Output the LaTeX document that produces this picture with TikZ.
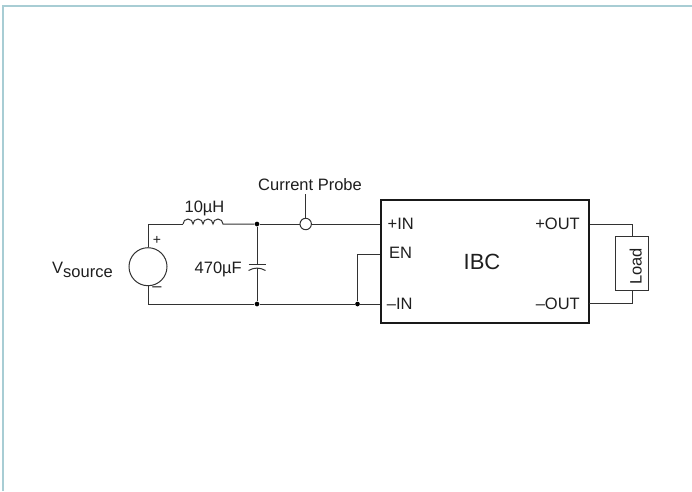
\documentclass[tikz,border=0pt]{standalone}
\usepackage{fontspec}
\setmainfont{Liberation Sans}
\definecolor{framec}{RGB}{168,205,212}
\definecolor{wirec}{RGB}{50,50,50}
\definecolor{textc}{RGB}{30,30,30}
\begin{document}
\begin{tikzpicture}[x=1pt,y=-1pt,
  wire/.style={draw=wirec,line width=1pt},
  lbl/.style={inner sep=0pt,font=\fontsize{16.5}{19}\selectfont,text=textc},
  dotj/.style={circle,fill=black,inner sep=0pt,minimum size=4.7pt}]
\useasboundingbox (0,0) rectangle (692,491);
\draw[draw=framec,line width=1.5pt] (3,491) -- (3,5.8) -- (692,5.8);
\node[draw=black!90,line width=1.5pt,minimum width=208pt,minimum height=123pt,inner sep=0pt,anchor=north west] (ibc) at (380,199) {};
\node[lbl,font=\fontsize{22}{24}\selectfont,anchor=base] (ibct) at (482,269) {IBC};
\node[draw=wirec,line width=1pt,circle,minimum size=38pt,inner sep=0pt] (src) at (148,266.7) {};
\node[draw=wirec,line width=1pt,minimum width=33pt,minimum height=54pt,inner sep=0pt] (load) at (632.3,263.7) {};
\node[lbl,rotate=90,anchor=base] (loadt) at (641.5,266.5) {Load};
\node[lbl,anchor=base west] (vs) at (52,273.5) {V\raisebox{-3.5pt}{source}};
\node[lbl,font=\fontsize{14}{16}\selectfont] (plus) at (157,240) {+};
\node[lbl] (minus) at (157,289) {–};
\node[lbl,anchor=base] (ind) at (204.5,212) {10µH};
\node[lbl,anchor=base east] (cap) at (242,273) {470µF};
\node[lbl,anchor=base] (cp) at (310,190.5) {Current Probe};
\node[lbl,anchor=base west] (pin) at (387.5,229.5) {+IN};
\node[lbl,anchor=base west] (en) at (389,258) {EN};
\node[lbl,anchor=base west] (min) at (386.7,309.3) {–IN};
\node[lbl,anchor=base east] (pout) at (580,229) {+OUT};
\node[lbl,anchor=base east] (mout) at (580,309) {–OUT};
\node[dotj] (j1) at (257,224) {};
\node[dotj] (j2) at (257,304) {};
\node[dotj] (j3) at (357.5,304) {};
\node[draw=wirec,line width=1pt,circle,minimum size=11.4pt,inner sep=0pt] (probe) at (305.7,224) {};
\coordinate (tl) at (148,224);
\coordinate (bl) at (148,304);
\coordinate (l1) at (183,224);
\coordinate (c1) at (257,264);
\coordinate (c2) at (257,268);
\coordinate (pinc) at (380,224);
\coordinate (enc) at (380,254);
\coordinate (minc) at (380,304);
\coordinate (enl) at (357.5,254);
\coordinate (o1) at (590,224);
\coordinate (o1b) at (632.3,224);
\coordinate (o2) at (589,303);
\coordinate (o2b) at (632.3,303);
\coordinate (pt) at (305.7,194);
\draw[wire] (src.north) -- (tl) -- (l1);
\draw[wire] (l1) arc[start angle=180,end angle=0,radius=5pt] arc[start angle=180,end angle=0,radius=5pt] arc[start angle=180,end angle=0,radius=5pt] arc[start angle=180,end angle=0,radius=5pt] -- (j1);
\draw[wire] (j1) -- (probe.west);
\draw[wire] (probe.east) -- (pinc);
\draw[wire] (pt) -- (probe.north);
\draw[wire] (src.south) -- (bl) -- (j2) -- (j3) -- (minc);
\draw[wire] (j1) -- (c1);
\draw[wire] (j2) -- (c2);
\draw[wire] (248.5,264) -- (265.5,264);
\draw[wire] (248.5,270.5) .. controls (254,267.3) and (260,267.3) .. (265.5,270.5);
\draw[wire] (enc) -- (enl) -- (j3);
\draw[wire] (o1) -- (o1b) -- (load.north);
\draw[wire] (o2) -- (o2b) -- (load.south);
\end{tikzpicture}
\end{document}
